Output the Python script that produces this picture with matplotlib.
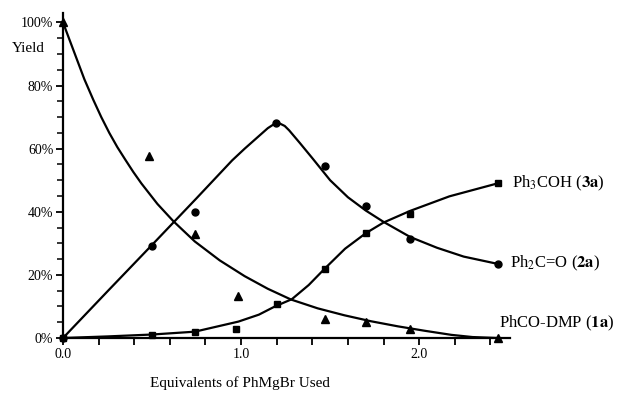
"""Yield of products vs. equivalents of PhMgBr."""

import matplotlib
matplotlib.use("Agg")
import matplotlib.pyplot as plt
from matplotlib.ticker import FixedLocator, FuncFormatter, MultipleLocator

plt.rcParams["font.family"] = ["Liberation Serif", "DejaVu Serif"]
plt.rcParams["mathtext.fontset"] = "stix"

# measured points
tri_x = [0.0, 0.485, 0.74, 0.985, 1.47, 1.70, 1.95, 2.44]
tri_y = [100, 57.6, 33, 13.4, 6, 5, 3, 0]
circ_x = [0.0, 0.5, 0.74, 1.197, 1.47, 1.70, 1.95, 2.44]
circ_y = [0, 29, 40, 68, 54.4, 41.7, 31.5, 23.5]
sq_x = [0.0, 0.5, 0.74, 0.97, 1.20, 1.47, 1.70, 1.95, 2.44]
sq_y = [0, 1, 1.8, 3, 10.8, 22, 33.2, 39.4, 49]

# hand-drawn trend curves
tri_curve_x = [0, 0.04, 0.08, 0.12, 0.17, 0.215, 0.26, 0.305, 0.35, 0.395,
               0.44, 0.53, 0.62, 0.74, 0.88, 1.02, 1.15, 1.28, 1.43, 1.58,
               1.73, 1.88, 2.03, 2.18, 2.3, 2.44]
tri_curve_y = [100, 94, 88, 82, 75.5, 70, 65, 60.5, 56.5, 52.6,
               49, 42.5, 37, 30.6, 24.6, 19.6, 15.6, 12.2, 9.4, 7.2,
               5.3, 3.7, 2.3, 1.0, 0.3, 0]
circ_curve_x = [0, 0.25, 0.5, 0.75, 0.95, 1.02, 1.08, 1.12, 1.15, 1.18, 1.2,
                1.22, 1.245, 1.27, 1.3, 1.33, 1.4, 1.5, 1.6, 1.7, 1.8, 1.95,
                2.1, 2.25, 2.44]
circ_curve_y = [0, 14.8, 29.5, 44.3, 56.3, 60, 63, 65, 66.5, 67.6, 68,
                67.9, 67.2, 65.8, 63.8, 61.8, 57, 50, 44.6, 40.4, 36.8, 32,
                28.6, 25.8, 23.5]
sq_curve_x = [0, 0.25, 0.5, 0.74, 0.985, 1.1, 1.19, 1.285, 1.38, 1.47,
              1.584, 1.70, 1.80, 1.95, 2.17, 2.44]
sq_curve_y = [0, 0.5, 1.1, 2.0, 5.2, 7.4, 10, 12.3, 16.8, 22,
              28.3, 33.2, 36.6, 40.3, 44.9, 49]

x_ticks = [0.0, 0.2, 0.4, 0.6, 0.8, 1.0, 1.2, 1.4, 1.6, 1.8, 2.0, 2.2, 2.4]
x_labels = {0.0: "0.0", 1.0: "1.0", 2.0: "2.0"}

fig = plt.figure(figsize=(6.28, 3.93), dpi=100)
ax = fig.add_axes([63 / 628, 55 / 393, 447 / 628, 325 / 393])

line_kw = dict(color="black", linewidth=1.6, solid_joinstyle="round",
               solid_capstyle="round", clip_on=False)
ax.plot(tri_curve_x, tri_curve_y, **line_kw)
ax.plot(circ_curve_x, circ_curve_y, **line_kw)
ax.plot(sq_curve_x, sq_curve_y, **line_kw)

ax.plot(tri_x, tri_y, linestyle="none", marker="^", markersize=5.5,
        color="black", clip_on=False, zorder=4)
ax.plot(circ_x, circ_y, linestyle="none", marker="o", markersize=5,
        color="black", clip_on=False, zorder=4)
ax.plot(sq_x, sq_y, linestyle="none", marker="s", markersize=5,
        color="black", clip_on=False, zorder=4)

ax.set_xlim(0, 2.51)
ax.set_ylim(0, 103)
for side in ("top", "right"):
    ax.spines[side].set_visible(False)
for side in ("left", "bottom"):
    ax.spines[side].set_linewidth(1.6)

ax.xaxis.set_major_locator(FixedLocator(x_ticks))
ax.xaxis.set_major_formatter(
    FuncFormatter(lambda v, p: x_labels.get(round(v, 1), "")))
ax.yaxis.set_major_locator(MultipleLocator(20))
ax.yaxis.set_minor_locator(MultipleLocator(5))
ax.yaxis.set_major_formatter(FuncFormatter(lambda v, p: f"{v:.0f}%"))
ax.tick_params(axis="both", which="major", direction="out", length=5,
               width=1.3, labelsize=10, pad=2)
ax.tick_params(axis="y", which="minor", direction="out", length=4, width=1.1)

fig.text(12 / 628, 0.877, "Yield", fontsize=11, ha="left", va="center")
fig.text(240 / 628, 0.025, "Equivalents of PhMgBr Used", fontsize=11,
         ha="center", va="center")

label_kw = dict(fontsize=12, ha="left", va="center", clip_on=False)
ax.text(2.52, 49, "Ph$_3$COH ($\\mathbf{3a}$)", **label_kw)
ax.text(2.51, 23.5, "Ph$_2$C=O ($\\mathbf{2a}$)", **label_kw)
ax.text(2.45, 4.5, "PhCO-DMP ($\\mathbf{1a}$)", **label_kw)

fig.savefig("out.png", dpi=100)
